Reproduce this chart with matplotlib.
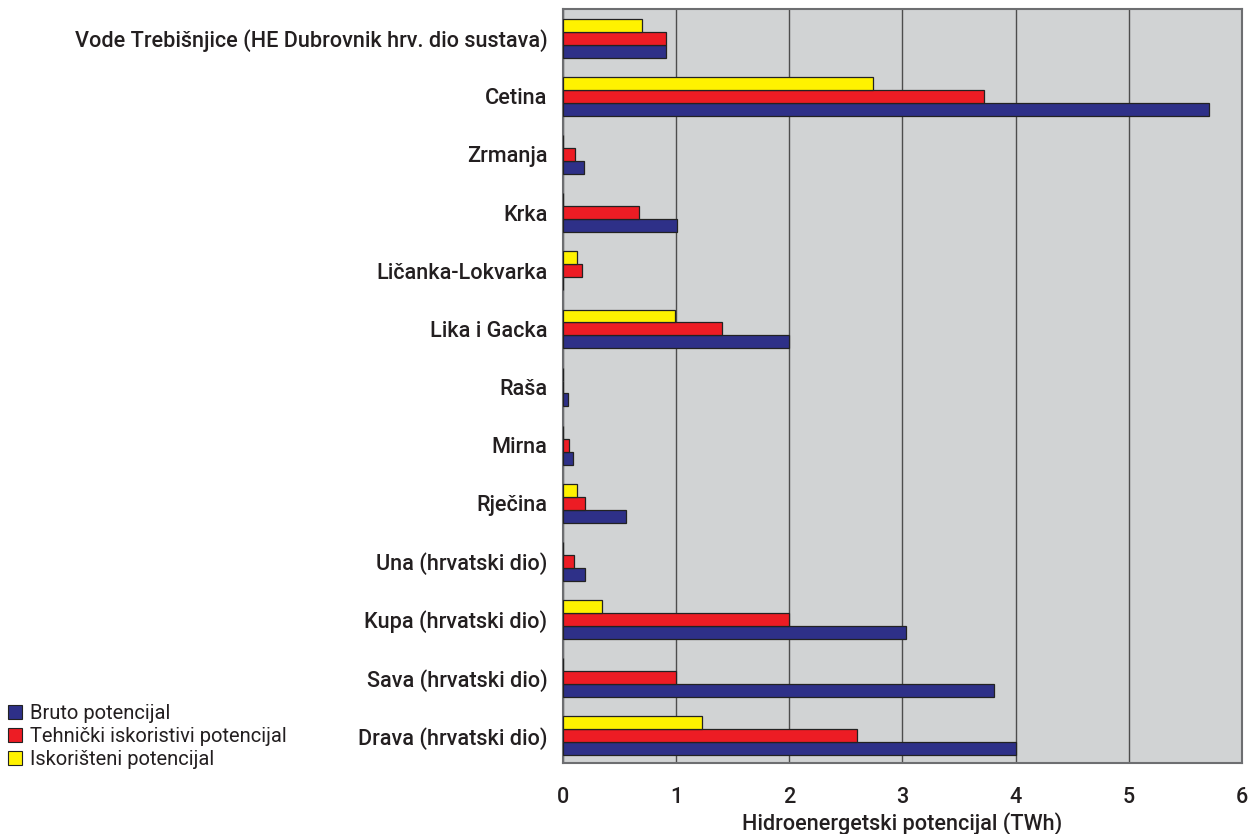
import numpy as np
import matplotlib.pyplot as plt
from matplotlib.patches import Patch

# Rivers listed bottom to top
rivers = [
    "Drava (hrvatski dio)",
    "Sava (hrvatski dio)",
    "Kupa (hrvatski dio)",
    "Una (hrvatski dio)",
    "Rječina",
    "Mirna",
    "Raša",
    "Lika i Gacka",
    "Ličanka-Lokvarka",
    "Krka",
    "Zrmanja",
    "Cetina",
    "Vode Trebišnjice (HE Dubrovnik hrv. dio sustava)",
]
bruto = [4.0, 3.81, 3.03, 0.2, 0.56, 0.09, 0.05, 2.0, 0.0, 1.01, 0.19, 5.71, 0.91]
tehnicki = [2.6, 1.0, 2.0, 0.1, 0.2, 0.06, 0.0, 1.41, 0.17, 0.67, 0.11, 3.72, 0.91]
iskoristeni = [1.23, 0.0, 0.35, 0.0, 0.13, 0.0, 0.0, 0.99, 0.13, 0.0, 0.0, 2.74, 0.70]

series_names = ["Bruto potencijal", "Tehnički iskoristivi potencijal", "Iskorišteni potencijal"]
colors = ["#2e3088", "#ed1c24", "#fff200"]

plt.rcParams["font.family"] = ["Roboto", "Liberation Sans", "DejaVu Sans"]
text_color = "#231f20"

fig = plt.figure(figsize=(12.56, 8.34), dpi=100)
ax = fig.add_axes([0.448, 0.085, 0.541, 0.904])

y = np.arange(len(rivers))
h = 0.222
ax.barh(y - h, bruto, height=h, color=colors[0], edgecolor="#222222", linewidth=0.9, zorder=3)
ax.barh(y, tehnicki, height=h, color=colors[1], edgecolor="#222222", linewidth=0.9, zorder=3)
ax.barh(y + h, iskoristeni, height=h, color=colors[2], edgecolor="#222222", linewidth=0.9, zorder=3)

ax.set_facecolor("#d1d3d4")
ax.set_xlim(0, 6)
ax.set_ylim(-0.47, 12.5)
ax.set_xticks(range(7))
ax.set_yticks(y)
ax.set_yticklabels(rivers, fontsize=15.6, fontweight="medium", color=text_color)
ax.tick_params(axis="y", length=0, pad=11)
ax.tick_params(axis="x", length=0, pad=17, labelsize=15.5)
for lbl in ax.get_xticklabels():
    lbl.set_fontweight("medium")
    lbl.set_color(text_color)
ax.xaxis.grid(True, color="#4d4d4d", linewidth=1.0, zorder=1)
ax.set_axisbelow(True)
for side in ["top", "right", "bottom", "left"]:
    ax.spines[side].set_color("#6d6e71")
    ax.spines[side].set_linewidth(1.5)

ax.set_xlabel("Hidroenergetski potencijal (TWh)", fontsize=15.6, fontweight="medium",
              color=text_color, labelpad=3)

handles = [Patch(facecolor=c, edgecolor="#222222", linewidth=0.8) for c in colors]
fig.legend(handles, series_names, loc="lower left", bbox_to_anchor=(0.0, 0.068),
           frameon=False, fontsize=14.5, handlelength=0.7, handleheight=0.7,
           handletextpad=0.4, labelspacing=0.2, borderaxespad=0.0,
           borderpad=0.4, labelcolor=text_color)

fig.savefig("out.png", dpi=100)
